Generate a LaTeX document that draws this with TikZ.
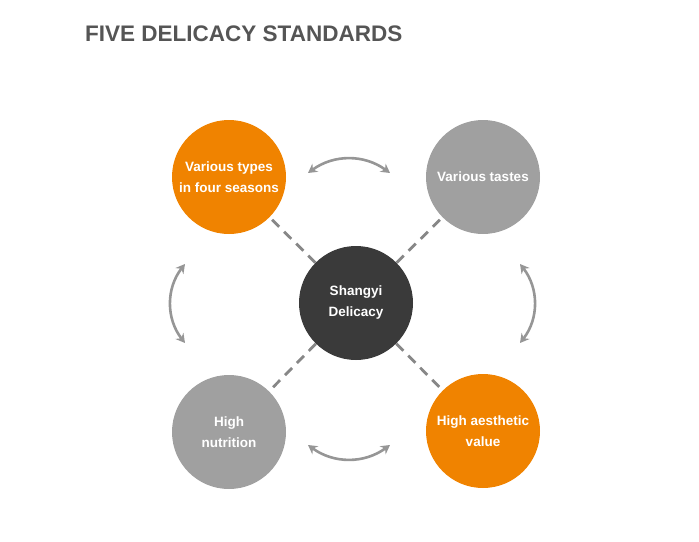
\documentclass[tikz,border=0pt]{standalone}
\usepackage{fontspec}
\setmainfont{Liberation Sans}
\usetikzlibrary{arrows.meta, positioning, calc}
\definecolor{orangecolor}{RGB}{240,131,0}
\definecolor{greycolor}{RGB}{160,160,160}
\definecolor{centercolor}{RGB}{58,58,58}
\definecolor{titlecolor}{RGB}{85,85,85}
\definecolor{arrowcolor}{RGB}{150,150,150}
\definecolor{dashcolor}{RGB}{135,135,135}

\begin{document}
\begin{tikzpicture}[x=1pt, y=-1pt,
    ball/.style={circle, minimum size=114pt, inner sep=0pt, text=white, align=center,
        font=\fontsize{13.5}{21}\selectfont\bfseries},
    link/.style={dashcolor, line width=2.8pt, dash pattern=on 10pt off 7pt},
    swap/.style={{Stealth[length=9pt,width=10pt]}-{Stealth[length=9pt,width=10pt]}, arrowcolor, line width=2.6pt}]
    \useasboundingbox (0,0) rectangle (699,541);
    % Title
    \node[anchor=base west, inner sep=0pt, text=titlecolor, font=\fontsize{22.5}{27}\selectfont\bfseries] (title) at (85,41) {FIVE DELICACY STANDARDS};

    % Circles
    \node[ball, fill=centercolor] (center) at (356,303) {Shangyi\\Delicacy};
    \node[ball, fill=orangecolor] (seasons) at (229,177) {Various types\\in four seasons};
    \node[ball, fill=greycolor] (tastes) at (483,177) {Various tastes};
    \node[ball, fill=greycolor] (nutrition) at (229,432) {High\\nutrition};
    \node[ball, fill=orangecolor] (aesthetic) at (483,431) {High aesthetic\\value};

    % Dashed links
    \draw[link] (center) -- (seasons);
    \draw[link] (center) -- (tastes);
    \draw[link] (center) -- (nutrition);
    \draw[link] (center) -- (aesthetic);

    % Curved arrows
    \coordinate (topL) at (308,173);
    \coordinate (topR) at (390,173);
    \coordinate (leftT) at (185,264);
    \coordinate (leftB) at (185,343);
    \coordinate (rightT) at (520,264);
    \coordinate (rightB) at (520,343);
    \coordinate (botL) at (308,445);
    \coordinate (botR) at (390,445);
    \draw[swap] (topL) to[bend left=36] (topR);
    \draw[swap] (leftT) to[bend right=38] (leftB);
    \draw[swap] (rightT) to[bend left=38] (rightB);
    \draw[swap] (botL) to[bend right=36] (botR);
\end{tikzpicture}
\end{document}
